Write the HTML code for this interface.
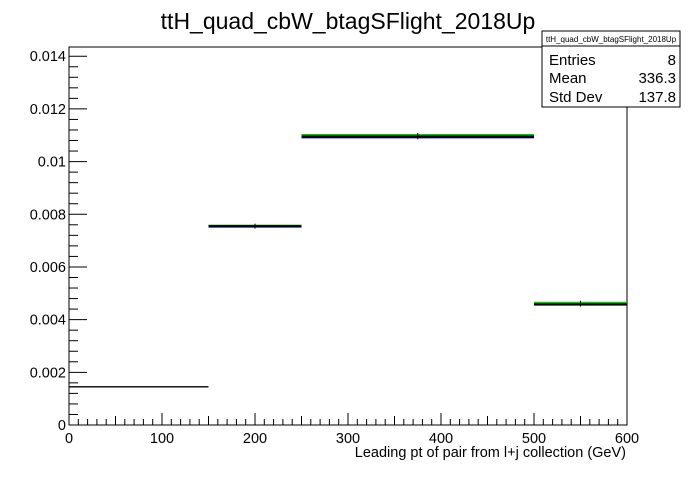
<!DOCTYPE html>
<html><head><meta charset="utf-8"><style>
body{margin:0;background:#fff;}
svg text{font-family:"Liberation Sans",sans-serif;}
</style></head><body>
<svg width="696" height="472" xmlns="http://www.w3.org/2000/svg">
<rect width="696" height="472" fill="#fff"/>
<text x="348" y="29" font-size="23" text-anchor="middle">ttH_quad_cbW_btagSFlight_2018Up</text>
<g id="axes"></g>
<g id="marks"></g>
<g>
<rect x="542" y="31" width="138" height="76" fill="#fff" stroke="#000" stroke-width="1"/>
<line x1="542" y1="46" x2="680" y2="46" stroke="#000"/>
<text x="611" y="42" font-size="8" text-anchor="middle">ttH_quad_cbW_btagSFlight_2018Up</text>
<text x="549" y="65" font-size="15">Entries</text><text x="676" y="65" font-size="15" text-anchor="end">8</text>
<text x="549" y="83" font-size="15">Mean</text><text x="676" y="83" font-size="15" text-anchor="end">336.3</text>
<text x="549" y="102" font-size="15">Std Dev</text><text x="676" y="102" font-size="15" text-anchor="end">137.8</text>
</g>
<text x="626" y="457" font-size="14.5" text-anchor="end">Leading pt of pair from l+j collection (GeV)</text>
</svg>
<script>
const binEdges=[0,150,250,500,600];
const blackVals=[0.00145,0.00755,0.01095,0.00458];
const blueVals=[null,0.00753,0.01092,0.00457];
const greenVals=[null,0.00757,0.01101,0.00464];
const xTicks=[0,100,200,300,400,500,600];
const yTicks=[0,0.002,0.004,0.006,0.008,0.01,0.012,0.014];
const yTickLabels=["0","0.002","0.004","0.006","0.008","0.01","0.012","0.014"];
const X0=69,X1=627,Y0=425,YT=47,XMAX=600,YMAX=0.01435;
const sx=v=>X0+(X1-X0)*v/XMAX;
const sy=v=>Y0-(Y0-YT)*v/YMAX;
const NS="http://www.w3.org/2000/svg";
const axes=document.getElementById('axes'),marks=document.getElementById('marks');
function mk(tag,attrs,parent){const e=document.createElementNS(NS,tag);for(const k in attrs)e.setAttribute(k,attrs[k]);parent.appendChild(e);return e;}
const fr=mk('rect',{x:X0,y:YT,width:X1-X0,height:Y0-YT,fill:'none',stroke:'#000','stroke-width':1},axes);


for(let i=0;i<=60;i++){const v=i*10;const len=i%10==0?12:(i%5==0?9:6);
 const t=mk('line',{x1:sx(v),x2:sx(v),y1:Y0,y2:Y0-len,stroke:'#000'},axes);
 
 }
xTicks.forEach(v=>{const t=mk('text',{x:sx(v),y:Y0+18,'font-size':14.5,'text-anchor':'middle'},axes);t.textContent=v;
 
 });
for(let i=0;i<=35;i++){const v=i*0.0004;if(v>YMAX)break;const len=i%5==0?18:9;
 const t=mk('line',{x1:X0,x2:X0+len,y1:sy(v),y2:sy(v),stroke:'#000'},axes);
 
 }
yTicks.forEach((v,i)=>{const t=mk('text',{x:X0-3,y:sy(v)+5,'font-size':14.5,'text-anchor':'end'},axes);t.textContent=yTickLabels[i];
 
 });
function series(vals,color,name){vals.forEach((v,i)=>{if(v==null)return;
 const w=(name==='black-series'&&i===0)?1.3:2;
 const l=mk('line',{x1:sx(binEdges[i]),x2:sx(binEdges[i+1]),y1:sy(v),y2:sy(v),stroke:color,'stroke-width':w},marks);
 
 
 if(i>0){const c=(binEdges[i]+binEdges[i+1])/2;
 mk('line',{x1:sx(c),x2:sx(c),y1:sy(v)-2,y2:sy(v)+2,stroke:'#000','stroke-width':1},marks);}});}
series(greenVals,'#00cc00','green-series');
series(blueVals,'#0000cc','blue-series');
series(blackVals,'#000','black-series');
</script>
</body></html>
